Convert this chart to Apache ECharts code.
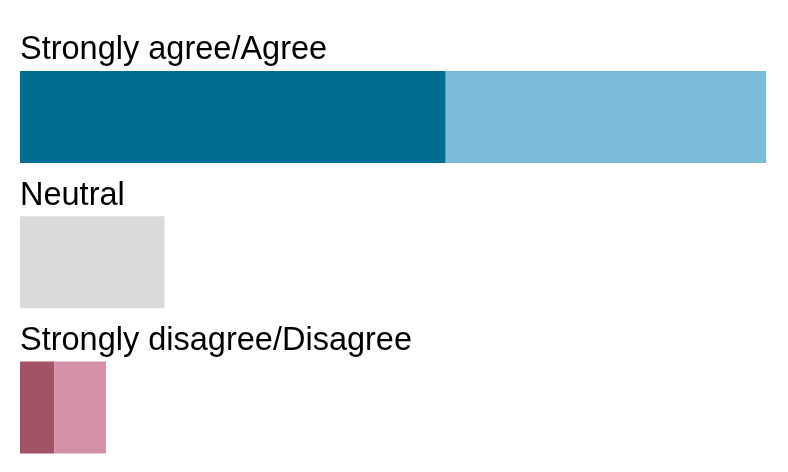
<!DOCTYPE html>
<html>
<head>
<meta charset="utf-8">
<script src="https://cdn.jsdelivr.net/npm/echarts@6/dist/echarts.min.js"></script>
<style>html,body{margin:0;padding:0;background:#fff}#c{width:788px;height:472px}</style>
</head>
<body>
<div id="c"></div>
<script>
var categories = ['Strongly agree/Agree', 'Neutral', 'Strongly disagree/Disagree'];
var strongValues = [43.6, null, 3.5];
var neutralValues = [null, 14.8, null];
var mildValues = [32.8, null, 5.3];
var strongColors = ['#006E93', null, '#A35366'];
var mildColors = ['#7DBBD8', null, '#D490A8'];
var neutralColor = '#DADADA';

var chart = echarts.init(document.getElementById('c'), null, {renderer: 'canvas'});
var labelCfg = {
  show: true,
  position: [0, -4],
  align: 'left',
  verticalAlign: 'bottom',
  color: '#000',
  fontSize: 32.5,
  fontFamily: 'Liberation Sans, Arial, sans-serif',
  formatter: function (p) { return categories[p.dataIndex]; }
};
function mk(vals, colors, single) {
  return vals.map(function (v, i) {
    return {value: v, itemStyle: {color: single || colors[i]}};
  });
}
chart.setOption({
  animation: false,
  grid: {left: 20, right: 22, top: 117, bottom: 64.5, containLabel: false},
  xAxis: {type: 'value', min: 0, max: 76.4, show: false},
  yAxis: {type: 'category', data: categories, inverse: true, show: false, boundaryGap: false},
  series: [
    {type: 'bar', stack: 's', barWidth: 92, clip: false, data: mk(strongValues, strongColors), label: labelCfg},
    {type: 'bar', stack: 's', barWidth: 92, clip: false, data: mk(neutralValues, null, neutralColor), label: labelCfg},
    {type: 'bar', stack: 's', barWidth: 92, clip: false, data: mk(mildValues, mildColors)}
  ]
});
</script>
</body>
</html>
